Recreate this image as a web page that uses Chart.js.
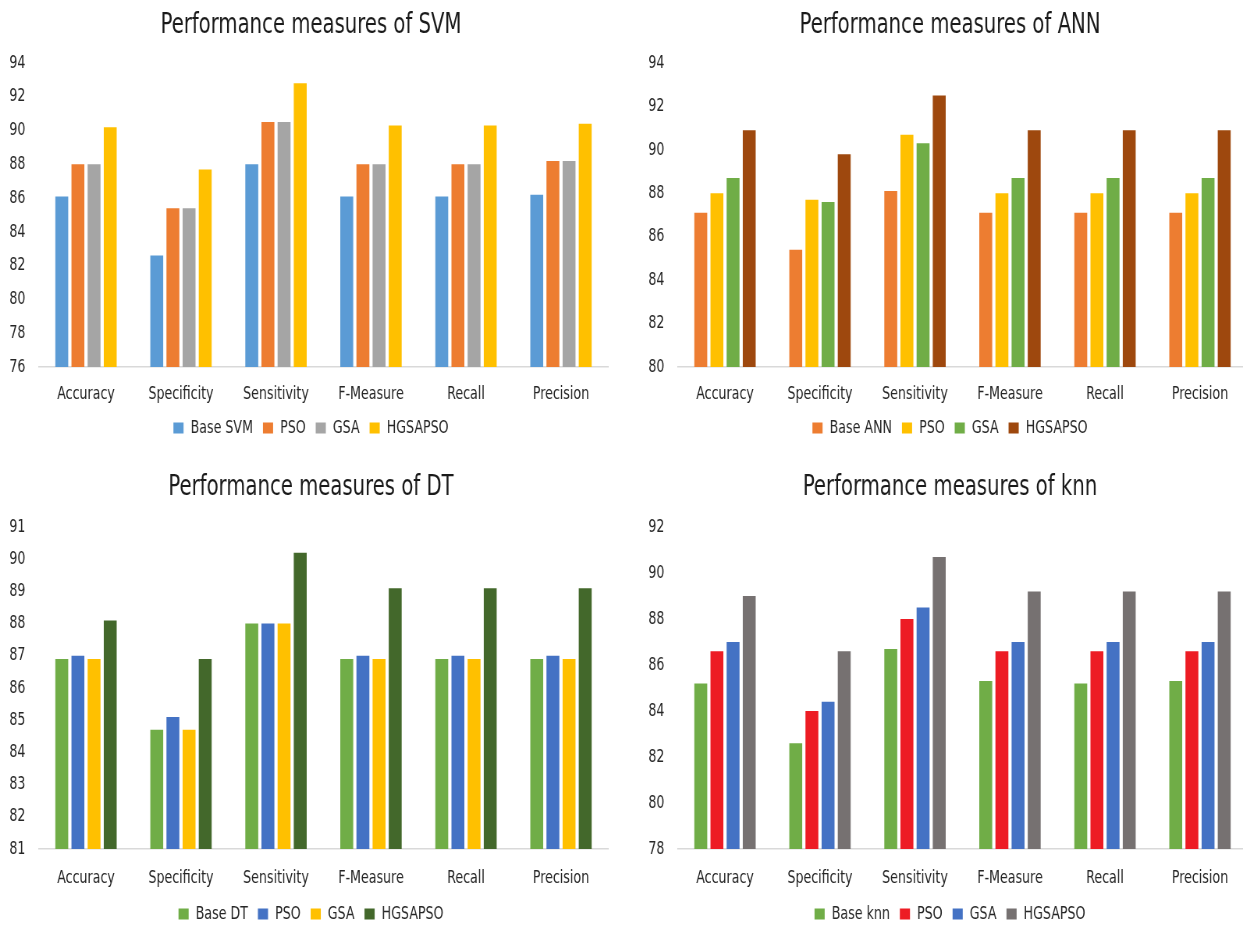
<!DOCTYPE html>
<html>
<head>
<meta charset="utf-8">
<title>Performance measures</title>
<script src="https://cdn.jsdelivr.net/npm/chart.js@4.4.1/dist/chart.umd.min.js"></script>
<style>
  html, body { margin: 0; padding: 0; background: #ffffff; width: 1243px; height: 931px; overflow: hidden; }
  /* each chart is drawn wide and squeezed horizontally, giving the condensed lettering */
  .panel { position: absolute; transform-origin: 0 0; transform: scaleX(0.7804); }
  canvas { display: block; }
</style>
</head>
<body>
<div class="panel" style="left:0px; top:0px;"><canvas id="svmChart" width="797" height="460"></canvas></div>
<div class="panel" style="left:639px; top:0px;"><canvas id="annChart" width="797" height="460"></canvas></div>
<div class="panel" style="left:0px; top:460px;"><canvas id="dtChart" width="797" height="476"></canvas></div>
<div class="panel" style="left:639px; top:460px;"><canvas id="knnChart" width="797" height="476"></canvas></div>

<script>
// Shared categories for all four classifiers
const CATEGORIES = ['Accuracy', 'Specificity', 'Sensitivity', 'F-Measure', 'Recall', 'Precision'];

// SVM
const SVM_SERIES = ['Base SVM', 'PSO', 'GSA', 'HGSAPSO'];
const SVM_BASE    = [86.1, 82.6, 88.0, 86.1, 86.1, 86.2];
const SVM_PSO     = [88.0, 85.4, 90.5, 88.0, 88.0, 88.2];
const SVM_GSA     = [88.0, 85.4, 90.5, 88.0, 88.0, 88.2];
const SVM_HGSAPSO = [90.2, 87.7, 92.8, 90.3, 90.3, 90.4];
const SVM_Y_TICKS = [76, 78, 80, 82, 84, 86, 88, 90, 92, 94];

// ANN
const ANN_SERIES = ['Base ANN', 'PSO', 'GSA', 'HGSAPSO'];
const ANN_BASE    = [87.1, 85.4, 88.1, 87.1, 87.1, 87.1];
const ANN_PSO     = [88.0, 87.7, 90.7, 88.0, 88.0, 88.0];
const ANN_GSA     = [88.7, 87.6, 90.3, 88.7, 88.7, 88.7];
const ANN_HGSAPSO = [90.9, 89.8, 92.5, 90.9, 90.9, 90.9];
const ANN_Y_TICKS = [80, 82, 84, 86, 88, 90, 92, 94];

// Decision tree
const DT_SERIES = ['Base DT', 'PSO', 'GSA', 'HGSAPSO'];
const DT_BASE    = [86.9, 84.7, 88.0, 86.9, 86.9, 86.9];
const DT_PSO     = [87.0, 85.1, 88.0, 87.0, 87.0, 87.0];
const DT_GSA     = [86.9, 84.7, 88.0, 86.9, 86.9, 86.9];
const DT_HGSAPSO = [88.1, 86.9, 90.2, 89.1, 89.1, 89.1];
const DT_Y_TICKS = [81, 82, 83, 84, 85, 86, 87, 88, 89, 90, 91];

// k-nearest neighbours
const KNN_SERIES = ['Base knn', 'PSO', 'GSA', 'HGSAPSO'];
const KNN_BASE    = [85.2, 82.6, 86.7, 85.3, 85.2, 85.3];
const KNN_PSO     = [86.6, 84.0, 88.0, 86.6, 86.6, 86.6];
const KNN_GSA     = [87.0, 84.4, 88.5, 87.0, 87.0, 87.0];
const KNN_HGSAPSO = [89.0, 86.6, 90.7, 89.2, 89.2, 89.2];
const KNN_Y_TICKS = [78, 80, 82, 84, 86, 88, 90, 92];

const FONT = "'DejaVu Sans Condensed', 'DejaVu Sans', Lato, sans-serif";
const TEXT = '#262626';

function buildChart(canvasId, title, seriesNames, seriesValues, colors, yTicks, frame) {
  return new Chart(document.getElementById(canvasId), {
    type: 'bar',
    data: {
      labels: CATEGORIES,
      datasets: seriesNames.map((name, i) => ({
        label: name,
        data: seriesValues[i],
        backgroundColor: colors[i],
        borderWidth: 0,
        barPercentage: 0.8,
        categoryPercentage: 0.68
      }))
    },
    options: {
      responsive: false,
      animation: false,
      devicePixelRatio: 1,
      layout: { padding: { left: 0, right: 0, top: frame.top, bottom: frame.bottom } },
      plugins: {
        title: {
          display: true,
          text: title,
          color: '#1a1a1a',
          font: { family: FONT, size: 28, weight: 'normal' },
          padding: { top: 0, bottom: frame.titleGap }
        },
        legend: {
          position: 'bottom',
          labels: {
            boxWidth: 13,
            boxHeight: 11,
            padding: 12.8,
            color: TEXT,
            font: { family: FONT, size: 18 }
          }
        },
        tooltip: { enabled: false }
      },
      scales: {
        x: {
          grid: { display: false, drawTicks: false },
          border: { display: true, color: '#d9d9d9', width: 1.5 },
          ticks: {
            padding: frame.xPad,
            color: TEXT,
            autoSkip: false,
            maxRotation: 0,
            font: { family: FONT, size: 18 }
          },
          afterFit(scale) { scale.height = frame.xHeight; }
        },
        y: {
          min: yTicks[0],
          max: yTicks[yTicks.length - 1],
          grid: { display: false, drawTicks: false },
          border: { display: false },
          ticks: {
            stepSize: yTicks[1] - yTicks[0],
            padding: 16.7,
            color: TEXT,
            font: { family: FONT, size: 18 }
          },
          afterFit(scale) { scale.width = 49.3; }
        },
        // empty strip on the right so the plot ends short of the canvas edge
        rightMargin: {
          type: 'linear',
          position: 'right',
          display: true,
          grid: { display: false, drawTicks: false },
          border: { display: false },
          ticks: { display: false },
          afterFit(scale) { scale.width = 17.3; }
        }
      }
    }
  });
}

const TOP_FRAME = { top: 9.4, titleGap: 20, xPad: 16.6, xHeight: 39.2, bottom: 13 };
const BOTTOM_FRAME = { top: 11.4, titleGap: 22, xPad: 18.6, xHeight: 43.2, bottom: 3 };

buildChart('svmChart', 'Performance measures of SVM', SVM_SERIES,
  [SVM_BASE, SVM_PSO, SVM_GSA, SVM_HGSAPSO],
  ['#5b9bd5', '#ed7d31', '#a5a5a5', '#ffc000'], SVM_Y_TICKS, TOP_FRAME);

buildChart('annChart', 'Performance measures of ANN', ANN_SERIES,
  [ANN_BASE, ANN_PSO, ANN_GSA, ANN_HGSAPSO],
  ['#ed7d31', '#ffc000', '#70ad47', '#9e480e'], ANN_Y_TICKS, TOP_FRAME);

buildChart('dtChart', 'Performance measures of DT', DT_SERIES,
  [DT_BASE, DT_PSO, DT_GSA, DT_HGSAPSO],
  ['#70ad47', '#4472c4', '#ffc000', '#43682b'], DT_Y_TICKS, BOTTOM_FRAME);

buildChart('knnChart', 'Performance measures of knn', KNN_SERIES,
  [KNN_BASE, KNN_PSO, KNN_GSA, KNN_HGSAPSO],
  ['#70ad47', '#ed1c24', '#4472c4', '#767171'], KNN_Y_TICKS, BOTTOM_FRAME);
</script>
</body>
</html>
